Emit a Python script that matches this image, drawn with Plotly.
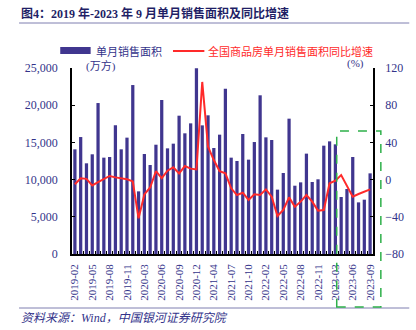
import plotly.graph_objects as go

months = [
    "2019-02","2019-03","2019-04","2019-05","2019-06","2019-07","2019-08","2019-09","2019-10","2019-11","2019-12",
    "2020-02","2020-03","2020-04","2020-05","2020-06","2020-07","2020-08","2020-09","2020-10","2020-11","2020-12",
    "2021-02","2021-03","2021-04","2021-05","2021-06","2021-07","2021-08","2021-09","2021-10","2021-11","2021-12",
    "2022-02","2022-03","2022-04","2022-05","2022-06","2022-07","2022-08","2022-09","2022-10","2022-11","2022-12",
    "2023-02","2023-03","2023-04","2023-05","2023-06","2023-07","2023-08","2023-09",
]
sales_area = [
    14070, 15720, 12190, 13400, 20290, 12950, 13040, 17290, 14070, 15640, 22710,
    8420, 13440, 11960, 14690, 20700, 14200, 14830, 18590, 16220, 17560, 24950,
    17290, 18640, 14250, 16040, 22220, 12950, 12500, 16130, 12680, 15050, 21330,
    15680, 15320, 8650, 10890, 18190, 9180, 9630, 13490, 9680, 10040, 14560,
    15140, 14740, 7660, 8740, 13040, 6940, 7300, 10840,
]
yoy = [
    -5, 1.4, 0.8, -6.2, -2.6, 0.6, 3.9, 2.4, 1.4, 0.3, -1.9,
    -41.7, -16, -8.5, 9, 1.6, 9.6, 13.2, 6.7, 14.6, 11.8, 11,
    105, 35.4, 21, 9, 6.7, -9.4, -16.6, -14.1, -21.9, -15.8, -16.6,
    -10.5, -18.4, -39.1, -32.7, -19.1, -29.1, -23.7, -16.6, -23.7, -33.4, -32.7,
    -4, -1.2, 4.9, -6.9, -18.4, -15.5, -13, -10.5,
]
tick_labels = [m if i % 3 == 0 else "" for i, m in enumerate(months)]
left_ticks = [0, 5000, 10000, 15000, 20000, 25000]
right_ticks = [-80, -40, 0, 40, 80, 120]

BAR = "#40368f"
NAVY = "#33338a"
RED = "#ff2a2a"
FONT = "Liberation Serif, Noto Sans CJK SC"

W, H = 416, 330
L, R, T, B = 72, 37, 68, 76
PW, PH = W - L - R, H - T - B


def px(x):
    return (x - L) / PW


def py(y):
    return (H - B - y) / PH


fig = go.Figure()
fig.add_trace(go.Bar(x=months, y=sales_area, marker_color=BAR, marker_line_width=0,
                     name="单月销售面积", showlegend=False))
fig.add_trace(go.Scatter(x=months, y=yoy, yaxis="y2", mode="lines",
                         line=dict(color=RED, width=2), name="全国商品房单月销售面积同比增速",
                         showlegend=False))

fig.update_layout(
    width=W, height=H,
    margin=dict(l=L, r=R, t=T, b=B, pad=0),
    paper_bgcolor="white", plot_bgcolor="white",
    bargap=0.44,
    font=dict(family=FONT, color=NAVY, size=11),
    xaxis=dict(
        type="category", tickmode="array", tickvals=months, ticktext=tick_labels,
        tickangle=-90, ticks="inside", ticklen=3, tickcolor="black", tickson="boundaries",
        showline=True, linecolor="black", linewidth=1.5, showgrid=False,
        tickfont=dict(family=FONT, size=11, color=NAVY), ticklabelstandoff=4,
        range=[-0.5, len(months) - 0.5],
    ),
    yaxis=dict(
        range=[0, 25000], tickvals=left_ticks, tickformat=",", ticks="inside", ticklen=3,
        tickcolor="black", showline=True, linecolor="black", linewidth=1.5, showgrid=False,
        zeroline=False, tickfont=dict(family=FONT, size=12, color=NAVY), ticklabelstandoff=10,
    ),
    yaxis2=dict(
        range=[-80, 120], tickvals=right_ticks, overlaying="y", side="right", ticks="inside",
        ticklen=3, tickcolor="black", showline=True, linecolor="black", linewidth=1.5,
        showgrid=False, zeroline=False, tickfont=dict(family=FONT, size=12, color=NAVY),
        ticklabelstandoff=8,
    ),
)

shapes = [
    # title underline
    dict(type="line", xref="paper", yref="paper", x0=px(18), x1=px(416), y0=py(23), y1=py(23),
         line=dict(color="#7f7fb0", width=1)),
    # bottom separator
    dict(type="line", xref="paper", yref="paper", x0=px(18), x1=px(416), y0=py(308), y1=py(308),
         line=dict(color="#7f7fb0", width=1)),
    # legend swatches
    dict(type="rect", xref="paper", yref="paper", x0=px(60), x1=px(91), y0=py(54), y1=py(47),
         fillcolor=BAR, line=dict(width=0)),
    dict(type="line", xref="paper", yref="paper", x0=px(175), x1=px(207), y0=py(51), y1=py(51),
         line=dict(color=RED, width=2)),
    # green dashed highlight box
    dict(type="rect", xref="paper", yref="paper", x0=px(342), x1=px(387), y0=py(307), y1=py(131),
         line=dict(color="#2eb04a", width=1.5, dash="dash"), fillcolor="rgba(0,0,0,0)"),
]
annotations = [
    dict(text="<b>图4：2019 年-2023 年 9 月单月销售面积及同比增速</b>", xref="paper", yref="paper",
         x=px(18), y=py(13), xanchor="left", yanchor="middle", showarrow=False,
         font=dict(family=FONT, size=12, color="#1f1f66")),
    dict(text="单月销售面积", xref="paper", yref="paper", x=px(94), y=py(51), xanchor="left",
         yanchor="middle", showarrow=False, font=dict(family=FONT, size=11, color=NAVY)),
    dict(text="全国商品房单月销售面积同比增速", xref="paper", yref="paper", x=px(209), y=py(51),
         xanchor="left", yanchor="middle", showarrow=False, font=dict(family=FONT, size=11, color=RED)),
    dict(text="(万方)", xref="paper", yref="paper", x=px(102), y=py(66), xanchor="center",
         yanchor="middle", showarrow=False, font=dict(family=FONT, size=11, color=NAVY)),
    dict(text="(%)", xref="paper", yref="paper", x=px(361), y=py(63), xanchor="center",
         yanchor="middle", showarrow=False, font=dict(family=FONT, size=11, color=NAVY)),
    dict(text="<i>资料来源：Wind，中国银河证券研究院</i>", xref="paper", yref="paper", x=px(18), y=py(318),
         xanchor="left", yanchor="middle", showarrow=False, font=dict(family=FONT, size=12, color=NAVY)),
]
fig.update_layout(shapes=shapes, annotations=annotations)

fig.write_html("out.html")
